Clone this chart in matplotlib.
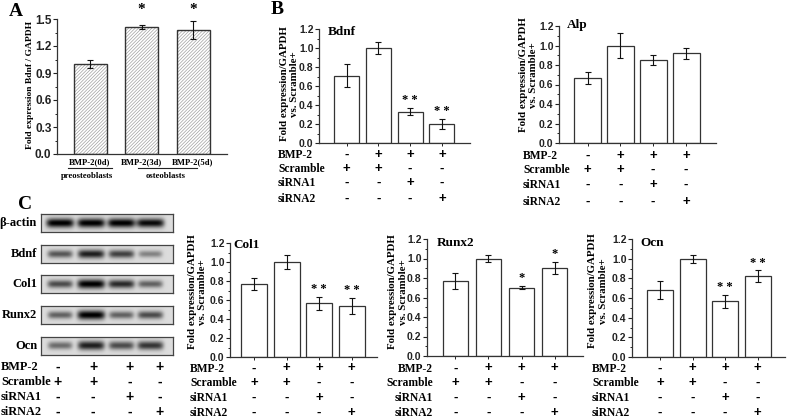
import matplotlib
matplotlib.use("Agg")
import matplotlib.pyplot as plt
import matplotlib.transforms as mtransforms
import numpy as np

# ---- data ----
a_labels = ["BMP-2(0d)", "BMP-2(3d)", "BMP-2(5d)"]
a_vals = [1.0, 1.41, 1.38]
a_errs = [0.045, 0.02, 0.10]
a_stars = ["", "*", "*"]

cond_names = ["BMP-2", "Scramble", "siRNA1", "siRNA2"]
cond_bmp2 = ["-", "+", "+", "+"]
cond_scramble = ["+", "+", "-", "-"]
cond_sirna1 = ["-", "-", "+", "-"]
cond_sirna2 = ["-", "-", "-", "+"]

bdnf_vals = [0.71, 1.0, 0.33, 0.20]
bdnf_errs = [0.125, 0.06, 0.04, 0.05]
bdnf_stars = ["", "", "**", "**"]

alp_vals = [0.67, 1.0, 0.85, 0.92]
alp_errs = [0.06, 0.13, 0.05, 0.055]
alp_stars = ["", "", "", ""]

col1_vals = [0.77, 1.0, 0.565, 0.54]
col1_errs = [0.065, 0.07, 0.07, 0.085]
col1_stars = ["", "", "**", "**"]

runx2_vals = [0.77, 1.0, 0.70, 0.90]
runx2_errs = [0.08, 0.04, 0.015, 0.06]
runx2_stars = ["", "", "*", "*"]

ocn_vals = [0.68, 1.0, 0.565, 0.82]
ocn_errs = [0.09, 0.04, 0.07, 0.06]
ocn_stars = ["", "", "**", "**"]

blot_names = ["β-actin", "Bdnf", "Col1", "Runx2", "Ocn"]
blot_intensity = [
    [1.0, 1.0, 1.0, 0.95],
    [0.6, 0.85, 0.7, 0.4],
    [0.65, 1.0, 0.8, 0.55],
    [0.55, 1.0, 0.55, 0.65],
    [0.5, 0.85, 0.65, 0.75],
]

W, H = 787, 418
SERIF = "Liberation Serif"
SANS = "Liberation Sans"

fig = plt.figure(figsize=(W / 100, H / 100), dpi=100)
fig.patch.set_facecolor("white")


def px_axes(l, t, r, b):
    return fig.add_axes([l / W, 1 - b / H, (r - l) / W, (b - t) / H])


def ftext(x, y, s, **kw):
    fig.text(x / W, 1 - y / H, s, **kw)


def style_axes(ax, ymax, step, labelsize=7.5):
    for side in ("top", "right"):
        ax.spines[side].set_visible(False)
    for side in ("left", "bottom"):
        ax.spines[side].set_linewidth(0.9)
        ax.spines[side].set_color("#333333")
    ax.set_ylim(0, ymax)
    ticks = np.arange(0, ymax + step / 2, step)
    ax.set_yticks(ticks)
    ax.set_yticks(ticks[:-1] + step / 2, minor=True)
    ax.set_yticklabels([f"{t:.1f}" for t in ticks], fontfamily=SANS,
                       fontweight="bold")
    ax.tick_params(axis="y", which="major", length=3, width=0.8, pad=1,
                   labelsize=labelsize, colors="#222222")
    ax.tick_params(axis="y", which="minor", length=1.5, width=0.6)
    ax.tick_params(axis="x", which="major", length=2, width=0.6)


def set_xlim_px(ax, n, left, right, c0, cn):
    s = (cn - c0) / (n - 1)
    ax.set_xlim(-(c0 - left) / s, (n - 1) + (right - cn) / s)
    return s


def bar_panel(box, centers, width_px, vals, errs, stars, title, title_xy,
              ylab_xy, table_y, label_x, label_ha):
    l, t, r, b = box
    ax = px_axes(l, t, r, b)
    x = np.arange(len(vals))
    s = set_xlim_px(ax, len(vals), l, r, centers[0], centers[1])
    ax.bar(x, vals, width=width_px / s, facecolor="white",
           edgecolor="#333333", linewidth=0.9)
    ax.errorbar(x, vals, yerr=errs, fmt="none", ecolor="#111111",
                elinewidth=0.8, capsize=2, capthick=0.8)
    for xi, v, e, st in zip(x, vals, errs, stars):
        if st:
            ax.text(xi, v + e + 0.02, " ".join(st), ha="center", va="bottom",
                    fontsize=9, fontfamily=SERIF, fontweight="bold")
    style_axes(ax, 1.2, 0.2)
    ax.set_xticks(x)
    ax.set_xticklabels([])
    ftext(title_xy[0], title_xy[1], title, ha="left", va="center",
          fontsize=9.5, fontfamily=SERIF, fontweight="bold")
    ftext(ylab_xy[0], ylab_xy[1], "Fold expression/GAPDH\nvs. Scramble+",
          rotation=90, ha="center", va="center", multialignment="center",
          fontsize=7.8, fontfamily=SERIF, fontweight="bold", linespacing=1.2)
    trans = mtransforms.blended_transform_factory(ax.transData, fig.transFigure)
    rows = [cond_bmp2, cond_scramble, cond_sirna1, cond_sirna2]
    for name, signs, y in zip(cond_names, rows, table_y):
        ftext(label_x, y, name, ha=label_ha, va="center", fontsize=8.3,
              fontfamily=SERIF, fontweight="bold")
        for xi, sg in zip(x, signs):
            ax.text(xi, 1 - y / H, sg, transform=trans, ha="center",
                    va="center", fontsize=9.5, fontfamily=SANS,
                    fontweight="bold", clip_on=False)
    return ax


# ---- panel A ----
plt.rcParams["hatch.linewidth"] = 0.5
axA = px_axes(57, 19, 227, 154)
xa = np.arange(len(a_vals))
sA = set_xlim_px(axA, 3, 57, 227, 90, 193)
axA.bar(xa, a_vals, width=33 / sA, facecolor="white", edgecolor="#a0a0a0",
        hatch="//////////", linewidth=0)
axA.bar(xa, a_vals, width=33 / sA, fill=False, edgecolor="#333333",
        linewidth=1.0)
axA.errorbar(xa, a_vals, yerr=a_errs, fmt="none", ecolor="#111111",
             elinewidth=0.8, capsize=2, capthick=0.8)
for xi, v, e, st in zip(xa, a_vals, a_errs, a_stars):
    if st:
        axA.text(xi, 1.53, st, ha="center", va="bottom", fontsize=11,
                 fontfamily=SERIF, fontweight="bold", clip_on=False)
style_axes(axA, 1.5, 0.3, labelsize=8.5)
axA.set_xticks(xa)
axA.set_xticklabels(a_labels, fontsize=6.2, fontfamily=SERIF,
                    fontweight="bold")
axA.tick_params(axis="x", length=0, pad=3)
ftext(30, 85, "Fold expression Bdnf / GAPDH", rotation=90, ha="center",
      va="center", fontsize=6.8, fontfamily=SERIF, fontweight="bold")
fig.add_artist(plt.Line2D([68 / W, 112 / W], [1 - 168 / H, 1 - 168 / H],
                          color="#222222", lw=0.8))
fig.add_artist(plt.Line2D([138 / W, 197 / W], [1 - 168 / H, 1 - 168 / H],
                          color="#222222", lw=0.8))
ftext(87, 176, "preosteoblasts", ha="center", va="center", fontsize=6.2,
      fontfamily=SERIF, fontweight="bold")
ftext(166, 176, "osteoblasts", ha="center", va="center", fontsize=6.2,
      fontfamily=SERIF, fontweight="bold")

# ---- panel B ----
bar_panel((319, 29, 470, 143), (346.5, 442), 25, bdnf_vals, bdnf_errs,
          bdnf_stars, "Bdnf", (328, 32), (289.5, 84),
          [155, 169, 183, 199], 278, "left")
bar_panel((559, 26, 716, 143), (587.5, 686), 27, alp_vals, alp_errs,
          alp_stars, "Alp", (567, 25), (528.5, 75),
          [156, 170, 185, 202], 523, "left")

# ---- panel C bar charts ----
c_rows_y = [368.5, 383, 398, 413]
bar_panel((230, 243, 377, 357), (254, 351.5), 26, col1_vals, col1_errs,
          col1_stars, "Col1", (233, 245), (197.5, 292),
          c_rows_y, 190, "left")
bar_panel((427, 239, 583, 356), (455.5, 554.5), 25.5, runx2_vals, runx2_errs,
          runx2_stars, "Runx2", (437, 243), (398, 292),
          c_rows_y, 433, "right")
bar_panel((632, 239, 785, 357), (660, 757.5), 26, ocn_vals, ocn_errs,
          ocn_stars, "Ocn", (640, 243), (598, 291),
          c_rows_y, 592, "left")

# ---- western blot ----
blot_rows = [(214, 232), (245, 263), (275, 293), (306, 324), (337, 355)]
lane_frac = [0.144, 0.38, 0.61, 0.83]
gx = np.linspace(0, 1, 264)
gy = np.linspace(-1, 1, 36)
for name, inten, (t, b) in zip(blot_names, blot_intensity, blot_rows):
    ax = px_axes(41, t, 173, b)
    img = np.full((gy.size, gx.size), 0.86)
    wide = name == "β-actin"
    for lf, I in zip(lane_frac, inten):
        hw = (0.105 if wide else 0.08 + 0.025 * I)
        prof_x = np.exp(-((gx - lf) / hw) ** 6)
        sig = 0.3 + 0.22 * I
        prof_y = np.exp(-(gy / sig) ** 2)
        img -= 0.88 * I * np.outer(prof_y, prof_x)
    ax.imshow(np.clip(img, 0, 1), cmap="gray", vmin=0, vmax=1,
              aspect="auto", interpolation="bilinear")
    ax.set_xticks([])
    ax.set_yticks([])
    for sp in ax.spines.values():
        sp.set_color("#444444")
        sp.set_linewidth(0.9)
    ftext(37, (t + b) / 2, name, ha="right", va="center", fontsize=9,
          fontfamily=SERIF, fontweight="bold")

blot_x = [58, 93, 130, 160]
rows = [cond_bmp2, cond_scramble, cond_sirna1, cond_sirna2]
for name, signs, y in zip(cond_names, rows, [367, 382, 397, 412]):
    ftext(1, y, name, ha="left", va="center", fontsize=8.8,
          fontfamily=SERIF, fontweight="bold")
    for xp, sg in zip(blot_x, signs):
        ftext(xp, y, sg, ha="center", va="center", fontsize=10,
              fontfamily=SANS, fontweight="bold")

# ---- panel letters ----
ftext(16, 11, "A", ha="center", va="center", fontsize=14, fontfamily=SERIF,
      fontweight="bold")
ftext(277, 9, "B", ha="center", va="center", fontsize=14, fontfamily=SERIF,
      fontweight="bold")
ftext(25, 205, "C", ha="center", va="center", fontsize=14, fontfamily=SERIF,
      fontweight="bold")

fig.savefig("out.png", dpi=100)
